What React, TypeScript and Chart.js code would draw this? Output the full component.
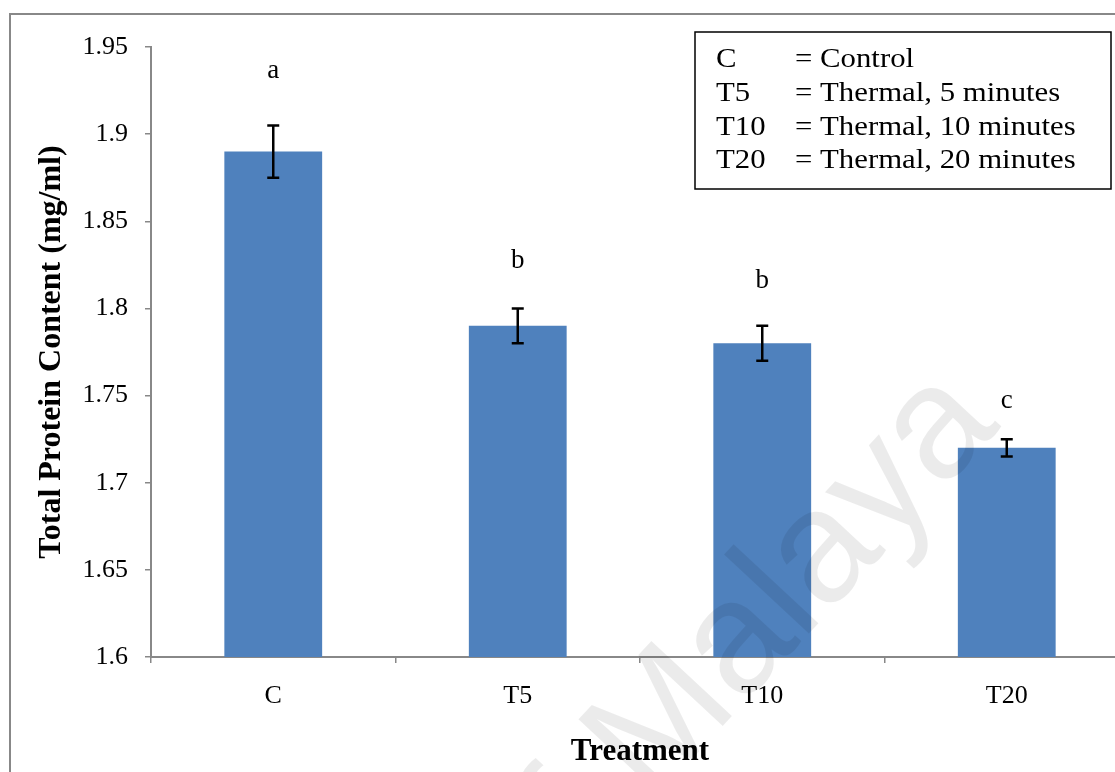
import React, { useEffect, useRef } from "react";
import { Chart, registerables } from "chart.js";

Chart.register(...registerables);

const categories = ["C", "T5", "T10", "T20"];
const proteinMeans = [1.89, 1.79, 1.78, 1.72];
const proteinErrors = [0.015, 0.01, 0.01, 0.005];
const significanceLetters = ["a", "b", "b", "c"];
const letterLevels = [1.932, 1.823, 1.812, 1.743];
const yTickValues = [1.6, 1.65, 1.7, 1.75, 1.8, 1.85, 1.9, 1.95];
const yTickLabels = ["1.6", "1.65", "1.7", "1.75", "1.8", "1.85", "1.9", "1.95"];
const legendCodes = ["C", "T5", "T10", "T20"];
const legendMeanings = [
  "= Control",
  "= Thermal, 5 minutes",
  "= Thermal, 10 minutes",
  "= Thermal, 20 minutes",
];

const SERIF = "'Liberation Serif', 'Times New Roman', serif";
const CANVAS_W = 1150;
const CANVAS_H = 772;

export default function App() {
  const ref = useRef<HTMLCanvasElement | null>(null);

  useEffect(() => {
    const canvas = ref.current;
    if (!canvas) return;

    const framePlugin = {
      id: "frame",
      beforeDraw(chart: any) {
        const ctx = chart.ctx;
        ctx.save();
        ctx.fillStyle = "#ffffff";
        ctx.fillRect(0, 0, chart.width, chart.height);
        ctx.strokeStyle = "#888888";
        ctx.lineWidth = 2;
        ctx.strokeRect(10, 14, chart.width + 20, chart.height + 20);
        ctx.restore();
      },
    };

    const errorPlugin = {
      id: "errorbars",
      afterDatasetsDraw(chart: any) {
        const ctx = chart.ctx;
        const meta = chart.getDatasetMeta(0);
        const ys = chart.scales.y;
        ctx.save();
        ctx.strokeStyle = "#000000";
        ctx.lineWidth = 2.5;
        meta.data.forEach((bar: any, i: number) => {
          const x = bar.x;
          const top = ys.getPixelForValue(proteinMeans[i] + proteinErrors[i]);
          const bot = ys.getPixelForValue(proteinMeans[i] - proteinErrors[i]);
          ctx.beginPath();
          ctx.moveTo(x, top);
          ctx.lineTo(x, bot);
          ctx.moveTo(x - 6, top);
          ctx.lineTo(x + 6, top);
          ctx.moveTo(x - 6, bot);
          ctx.lineTo(x + 6, bot);
          ctx.stroke();
          ctx.fillStyle = "#000000";
          ctx.font = `27px ${SERIF}`;
          ctx.textAlign = "center";
          ctx.textBaseline = "alphabetic";
          ctx.fillText(significanceLetters[i], x, ys.getPixelForValue(letterLevels[i]));
        });
        ctx.restore();
      },
    };

    const legendPlugin = {
      id: "legendBox",
      afterDraw(chart: any) {
        const ctx = chart.ctx;
        ctx.save();
        ctx.fillStyle = "#ffffff";
        ctx.fillRect(695, 32, 416, 157);
        ctx.strokeStyle = "#000000";
        ctx.lineWidth = 1.5;
        ctx.strokeRect(695, 32, 416, 157);
        ctx.fillStyle = "#000000";
        ctx.font = `27px ${SERIF}`;
        ctx.textAlign = "left";
        ctx.textBaseline = "alphabetic";
        const sx = 1.14;
        legendCodes.forEach((code, i) => {
          const yb = 67 + i * 33.8;
          ctx.save();
          ctx.translate(716, yb);
          ctx.scale(sx, 1);
          ctx.fillText(code, 0, 0);
          ctx.restore();
          ctx.save();
          ctx.translate(795, yb);
          ctx.scale(sx, 1);
          ctx.fillText(legendMeanings[i], 0, 0);
          ctx.restore();
        });
        ctx.restore();
      },
    };

    const watermarkPlugin = {
      id: "watermark",
      afterDraw(chart: any) {
        const ctx = chart.ctx;
        ctx.save();
        ctx.font = "160px 'Liberation Sans', Arial, sans-serif";
        const pre = ctx.measureText("University of ").width;
        ctx.translate(650, 804);
        ctx.rotate((-47 * Math.PI) / 180);
        ctx.fillStyle = "rgba(0,0,0,0.08)";
        ctx.textAlign = "left";
        ctx.textBaseline = "alphabetic";
        ctx.fillText("University of Malaya", -pre, 0);
        ctx.restore();
      },
    };

    const chart = new Chart(canvas, {
      type: "bar",
      data: {
        labels: categories,
        datasets: [
          {
            label: "Total Protein Content",
            data: proteinMeans,
            backgroundColor: "#4F81BD",
            borderWidth: 0,
            barPercentage: 0.4,
            categoryPercentage: 1.0,
          },
        ],
      },
      options: {
        responsive: false,
        animation: false,
        layout: { padding: { left: 0, top: 47, right: CANVAS_W - 1129, bottom: 0 } },
        plugins: {
          legend: { display: false },
          tooltip: { enabled: false },
          title: { display: false },
        },
        scales: {
          x: {
            grid: {
              display: true,
              drawOnChartArea: false,
              drawTicks: true,
              tickLength: 6,
              color: "#888888",
              lineWidth: 1.5,
              offset: true,
            },
            border: { display: true, color: "#888888", width: 2 },
            ticks: {
              color: "#000000",
              font: { family: SERIF, size: 26 },
              padding: 18,
              maxRotation: 0,
            },
            title: {
              display: true,
              text: "Treatment",
              color: "#000000",
              font: { family: SERIF, size: 31, weight: "bold" },
              padding: { top: 0, bottom: 1 },
            },
            afterFit(scale: any) {
              scale.height = 115;
            },
          },
          y: {
            min: 1.6,
            max: 1.95,
            afterBuildTicks(scale: any) {
              scale.ticks = yTickValues.map((v) => ({ value: v }));
            },
            grid: {
              display: true,
              drawOnChartArea: false,
              drawTicks: true,
              tickLength: 6,
              color: "#888888",
              lineWidth: 1.5,
            },
            border: { display: true, color: "#888888", width: 2 },
            ticks: {
              color: "#000000",
              font: { family: SERIF, size: 26 },
              padding: 17,
              callback: (value: any) => {
                let best = 0;
                yTickValues.forEach((v, i) => {
                  if (Math.abs(v - value) < Math.abs(yTickValues[best] - value)) best = i;
                });
                return yTickLabels[best];
              },
            },
            title: {
              display: true,
              text: "Total Protein Content (mg/ml)",
              color: "#000000",
              font: { family: SERIF, size: 32, weight: "bold" },
              padding: { top: 33, bottom: 0 },
            },
            afterFit(scale: any) {
              scale.width = 151;
            },
          },
        },
      },
      plugins: [framePlugin, errorPlugin, legendPlugin, watermarkPlugin],
    });

    return () => {
      chart.destroy();
    };
  }, []);

  return (
    <div
      style={{
        position: "fixed",
        left: 0,
        top: 0,
        width: 1115,
        height: 772,
        overflow: "hidden",
        background: "#ffffff",
      }}
    >
      <canvas
        ref={ref}
        width={CANVAS_W}
        height={CANVAS_H}
        style={{ display: "block", width: CANVAS_W, height: CANVAS_H }}
      />
    </div>
  );
}
